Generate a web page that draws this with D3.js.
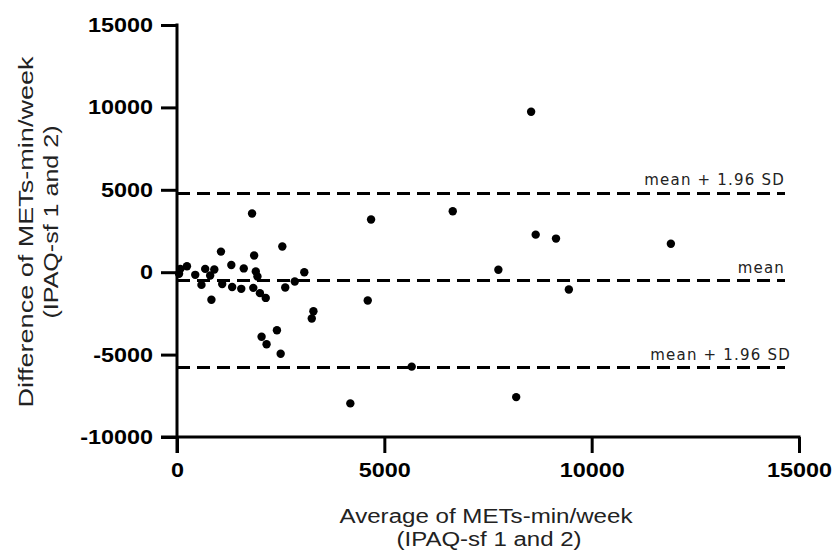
<!DOCTYPE html>
<html lang="en">
  <head>
    <meta charset="UTF-8" />
    <title>Bland-Altman</title>
    <style>
      body {
        margin: 0;
        background: #fff;
      }
      .tick text {
        font-family: "Liberation Sans", Arial, sans-serif;
        font-weight: bold;
        font-size: 20px;
        fill: #000;
      }
      .title {
        font-family: "Liberation Sans", Arial, sans-serif;
        font-size: 20px;
        fill: #222;
      }
      .lbl {
        font-family: "DejaVu Sans", sans-serif;
        font-size: 15px;
        letter-spacing: 1.2px;
        fill: #222;
      }
    </style>
  </head>
  <body>
    <svg id="chart" width="832" height="551"></svg>
  </body>
  <script src="https://cdn.jsdelivr.net/npm/d3@7"></script>
  <script>
    // average of the two IPAQ-sf measurements
    let avgVals = [
      50, 80, 240, 440, 590, 680, 800, 830, 900, 1060, 1090, 1310, 1330, 1550,
      1610, 1810, 1840, 1860, 1900, 1940, 2000, 2040, 2140, 2160, 2410, 2500,
      2540, 2610, 2840, 3070, 3250, 3290, 4180, 4600, 4680, 5660, 6650, 7750,
      8180, 8540, 8650, 9140, 9450, 11910,
    ];
    // difference between the two measurements
    let diffVals = [
      -100, 200, 360, -160, -770, 200, -200, -1670, 160, 1250, -720, 440, -900,
      -1010, 230, 3560, -950, 1010, 50, -260, -1270, -3920, -1560, -4370, -3520,
      -4950, 1560, -930, -560, 0, -2810, -2370, -7960, -1720, 3200, -5730, 3700,
      150, -7580, 9740, 2280, 2040, -1050, 1730,
    ];
    let xTicks = [0, 5000, 10000, 15000];
    let yTicks = [-10000, -5000, 0, 5000, 10000, 15000];
    let meanDiff = -510;
    let upperLoa = 4780;
    let lowerLoa = -5790;
    let refLabels = ["mean + 1.96 SD", "mean", "mean + 1.96 SD"];

    let svg = d3.select("#chart");
    let x = d3.scaleLinear().domain([0, 15000]).range([177, 799]);
    let y = d3.scaleLinear().domain([-10000, 15000]).range([437, 25]);
    let tick = 16;
    let stretch = 1.17; // tick labels in the picture are drawn wide

    // axes
    let yAxis = d3
      .axisLeft(y)
      .tickValues(yTicks)
      .tickSize(tick)
      .tickPadding(8)
      .tickFormat((d) => String(d));
    let yG = svg
      .append("g")
      .attr("transform", `translate(${x(0)},0)`)
      .call(yAxis);
    yG.select(".domain").remove();
    yG.selectAll(".tick text")
      .attr("x", 0)
      .attr("transform", `translate(${-(tick + 8)},0) scale(${stretch},1)`);

    let xAxis = d3
      .axisBottom(x)
      .tickValues(xTicks)
      .tickSize(tick)
      .tickPadding(10)
      .tickFormat((d) => String(d));
    let xG = svg
      .append("g")
      .attr("transform", `translate(0,${y(-10000)})`)
      .call(xAxis);
    xG.select(".domain").remove();
    xG.selectAll(".tick text").attr("transform", `scale(${stretch},1)`);

    svg.selectAll(".tick line").attr("stroke", "#000").attr("stroke-width", 3);

    svg
      .append("line")
      .attr("x1", x(0))
      .attr("x2", x(0))
      .attr("y1", y(15000) - 1.5)
      .attr("y2", y(-10000) + tick)
      .attr("stroke", "#000")
      .attr("stroke-width", 3);
    svg
      .append("line")
      .attr("x1", x(0) - tick)
      .attr("x2", x(15000) + 1.5)
      .attr("y1", y(-10000))
      .attr("y2", y(-10000))
      .attr("stroke", "#000")
      .attr("stroke-width", 3);

    // mean and limits of agreement
    let refs = [upperLoa, meanDiff, lowerLoa];
    svg
      .selectAll(".ref")
      .data(refs)
      .join("line")
      .attr("class", "ref")
      .attr("x1", x(0))
      .attr("x2", 785)
      .attr("y1", (d) => y(d))
      .attr("y2", (d) => y(d))
      .attr("stroke", "#000")
      .attr("stroke-width", 3)
      .attr("stroke-dasharray", "13,7");

    svg
      .selectAll(".lbl")
      .data(refs)
      .join("text")
      .attr("class", "lbl")
      .attr("text-anchor", "end")
      .attr("x", (d, i) => (i == 2 ? 791 : 785))
      .attr("y", (d) => y(d) - 8)
      .text((d, i) => refLabels[i]);

    // points
    svg
      .selectAll(".pt")
      .data(avgVals)
      .join("circle")
      .attr("class", "pt")
      .attr("cx", (d) => x(d))
      .attr("cy", (d, i) => y(diffVals[i]))
      .attr("r", 4.2)
      .attr("fill", "#000");

    // axis titles
    function titleLine(g, txt, tx, ty, len) {
      g.append("text")
        .attr("class", "title")
        .attr("text-anchor", "middle")
        .attr("x", tx)
        .attr("y", ty)
        .attr("textLength", len)
        .attr("lengthAdjust", "spacingAndGlyphs")
        .text(txt);
    }
    let xT = svg.append("g");
    titleLine(xT, "Average of METs-min/week", 486, 523, 293);
    titleLine(xT, "(IPAQ-sf 1 and 2)", 489, 546, 185);

    let yT = svg.append("g").attr("transform", "translate(0,232) rotate(-90)");
    titleLine(yT, "Difference of METs-min/week", 0, 33, 351);
    titleLine(yT, "(IPAQ-sf 1 and 2)", 10, 58, 193);
  </script>
</html>
